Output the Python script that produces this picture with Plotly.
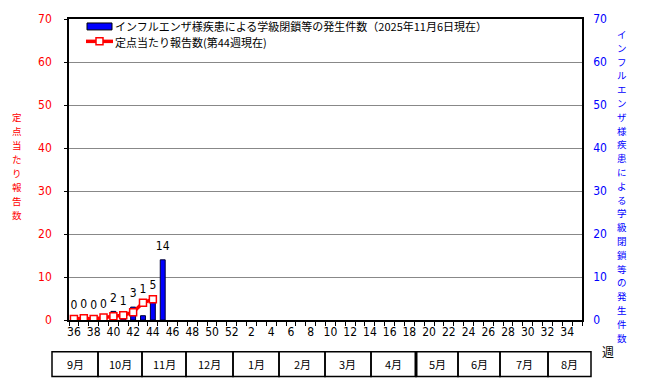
import plotly.graph_objects as go

# ---- data ----
weeks = list(range(36, 53)) + list(range(1, 36))
closures = [0, 0, 0, 0, 2, 1, 3, 1, 5, 14]           # weeks 36..45
rate = [0.23, 0.4, 0.23, 0.6, 0.85, 1.1, 1.8, 4.0, 4.85]  # weeks 36..44
months = ["9月", "10月", "11月", "12月", "1月", "2月", "3月", "4月", "5月", "6月", "7月", "8月"]
month_edges_px = [52, 98, 142, 186, 233, 279, 325, 371, 416, 458, 500, 548, 591]

bar_name = "インフルエンザ様疾患による学級閉鎖等の発生件数（2025年11月6日現在）"
line_name = "定点当たり報告数(第44週現在)"
left_title = "定点当たり報告数"
right_title = "インフルエンザ様疾患による学級閉鎖等の発生件数"

W, H = 647, 382
L, R, T, B = 69, 65, 17, 62
PW, PH = W - L - R, H - T - B

def px_x(px):
    return (px - L) / PW

def px_y(py):
    return (H - B - py) / PH

xi = list(range(len(weeks)))
NUM = "Liberation Sans Narrow, DejaVu Sans Condensed, Noto Sans CJK JP, sans-serif"
JP = "Noto Sans CJK JP, sans-serif"

fig = go.Figure()
fig.add_trace(go.Bar(
    x=xi[:len(closures)], y=closures, name=bar_name, yaxis="y",
    width=0.5, marker=dict(color="#0000FF", line=dict(color="#000033", width=1)),
    showlegend=False,
))
fig.add_trace(go.Scatter(
    x=xi[:len(rate)], y=rate, name=line_name, yaxis="y2", mode="lines+markers",
    line=dict(color="#FF0000", width=3.5),
    marker=dict(symbol="square", size=7, color="white", line=dict(color="#FF0000", width=1.5)),
    showlegend=False,
))
# bar value labels
lab_y = [max(c, rate[i] if i < len(rate) else 0) + 3 for i, c in enumerate(closures)]
fig.add_trace(go.Scatter(
    x=xi[:len(closures)], y=lab_y, mode="text", text=[str(c) for c in closures],
    textposition="middle center", textfont=dict(family=NUM, size=12, color="black"),
    showlegend=False, yaxis="y2", hoverinfo="skip",
))

tickvals = [i for i in xi if i % 2 == 0]
ticktext = [str(weeks[i]) for i in tickvals]

fig.update_layout(
    width=W, height=H,
    margin=dict(l=L, r=R, t=T, b=B),
    paper_bgcolor="white", plot_bgcolor="white",
    font=dict(family=JP, size=12, color="black"),
    showlegend=False,
    xaxis=dict(
        range=[-0.5, len(weeks) - 0.5], tickmode="array", tickvals=tickvals, ticktext=ticktext,
        ticks="", showgrid=False, showline=True, linecolor="black", linewidth=1.5, mirror=True,
        tickfont=dict(family=NUM, size=12, color="black"), zeroline=False,
        minor=dict(tickmode="linear", tick0=-0.5, dtick=1, ticks="outside", ticklen=4,
                   tickcolor="black", showgrid=False),
    ),
    yaxis=dict(
        range=[0, 70], dtick=10, side="right", showgrid=True, gridcolor="#888888", gridwidth=1,
        showline=True, linecolor="black", linewidth=1.5, ticks="", zeroline=False,
        tickfont=dict(family=NUM, size=12, color="#0000FF"), ticklabelstandoff=7,
    ),
    yaxis2=dict(
        range=[0, 70], dtick=10, side="left", overlaying="y", showgrid=False,
        showline=True, linecolor="black", linewidth=1.5, ticks="outside", ticklen=3,
        tickcolor="black", zeroline=False,
        tickfont=dict(family=NUM, size=12, color="#FF0000"), ticklabelstandoff=10,
    ),
)

# custom legend
fig.add_shape(type="rect", xref="paper", yref="paper", x0=px_x(87), x1=px_x(112),
              y0=px_y(28), y1=px_y(21), fillcolor="#0000FF", line=dict(color="black", width=1))
fig.add_annotation(text=bar_name, x=px_x(114), y=px_y(23.8), xref="paper", yref="paper",
                   showarrow=False, xanchor="left", yanchor="middle", borderpad=0,
                   font=dict(family=JP, size=11, color="black"))
fig.add_shape(type="line", xref="paper", yref="paper", x0=px_x(86), x1=px_x(113),
              y0=px_y(39.5), y1=px_y(39.5), line=dict(color="#FF0000", width=3.5))
fig.add_shape(type="rect", xref="paper", yref="paper", x0=px_x(96), x1=px_x(103),
              y0=px_y(43), y1=px_y(36), fillcolor="white", line=dict(color="#FF0000", width=1.5))
fig.add_annotation(text=line_name, x=px_x(114), y=px_y(40.2), xref="paper", yref="paper",
                   showarrow=False, xanchor="left", yanchor="middle", borderpad=0,
                   font=dict(family=JP, size=11, color="black"))

# axis titles (vertical stacked characters)
for i, ch in enumerate(left_title):
    fig.add_annotation(text=ch, x=px_x(17), y=px_y(116 + 14 * i), xref="paper", yref="paper",
                       showarrow=False, font=dict(family=JP, size=9.5, color="#FF0000"),
                       xanchor="center", yanchor="middle", borderpad=0)
for i, ch in enumerate(right_title):
    fig.add_annotation(text=ch, x=px_x(622), y=px_y(32 + 13.9 * i), xref="paper", yref="paper",
                       showarrow=False, font=dict(family=JP, size=9.5, color="#0000FF"),
                       xanchor="center", yanchor="middle", borderpad=0)
fig.add_annotation(text="週", x=px_x(608), y=px_y(352), xref="paper", yref="paper",
                   showarrow=False, xanchor="center", yanchor="middle",
                   font=dict(family=JP, size=12, color="black"))

# month table
ty0, ty1 = px_y(377), px_y(352)
for i, m in enumerate(months):
    x0, x1 = px_x(month_edges_px[i]), px_x(month_edges_px[i + 1])
    fig.add_shape(type="rect", xref="paper", yref="paper", x0=x0, x1=x1, y0=ty0, y1=ty1,
                  line=dict(color="black", width=1.5))
    fig.add_annotation(text=m, x=(x0 + x1) / 2, y=(ty0 + ty1) / 2, xref="paper", yref="paper",
                       showarrow=False, xanchor="center", yanchor="middle",
                       font=dict(family=JP, size=11, color="black"))
# thicker divider between 4月 and 5月
fig.add_shape(type="line", xref="paper", yref="paper", x0=px_x(416), x1=px_x(416), y0=ty0, y1=ty1,
              line=dict(color="black", width=3))

fig.write_html("out.html")
